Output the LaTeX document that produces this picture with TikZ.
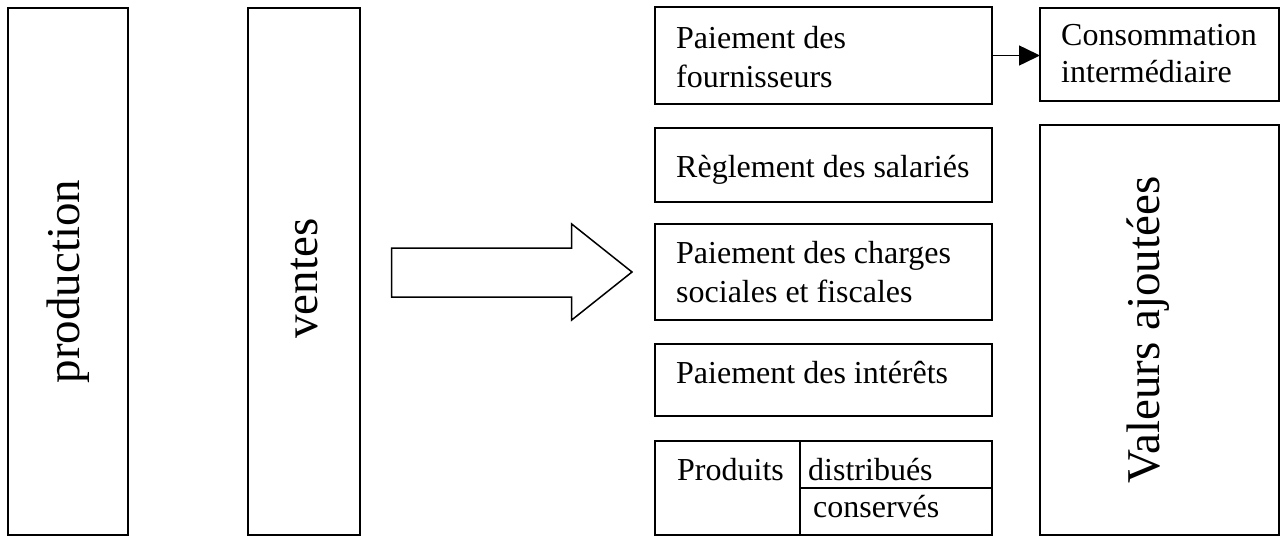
\documentclass[tikz,border=0pt]{standalone}
\usepackage{fontspec}
\setmainfont{Liberation Serif}
\usetikzlibrary{arrows.meta}

\begin{document}
\begin{tikzpicture}[x=1pt,y=-1pt,
  box/.style={draw,line width=1.5pt,inner sep=0pt,outer sep=0pt},
  lbl/.style={inner sep=0pt,anchor=base west,font=\fontsize{32}{39}\selectfont},
  big/.style={rotate=90,font=\fontsize{47}{56}\selectfont}]
\useasboundingbox (0,0) rectangle (1280,536);
\node[box,big,minimum width=527pt,minimum height=120pt] (prodn) at (68,271.5) {production\hspace*{20pt}};
\node[box,big,minimum width=527pt,minimum height=112pt] (vent) at (304,271.5) {ventes\hspace*{14pt}};
\draw[box,line join=miter] (391.7,248) -- (571.7,248) -- (571.7,224) -- (632,272) -- (571.7,320) -- (571.7,297) -- (391.7,297) -- cycle;
\node[box,minimum width=337pt,minimum height=97pt] (fourn) at (823.5,55.5) {};
\node[box,minimum width=337pt,minimum height=74pt] (sal) at (823.5,165) {};
\node[box,minimum width=337pt,minimum height=96pt] (charg) at (823.5,272) {};
\node[box,minimum width=337pt,minimum height=72pt] (inter) at (823.5,380) {};
\node[box,minimum width=145pt,minimum height=94pt] (prodL) at (727.5,488) {};
\node[box,minimum width=192pt,minimum height=47pt] (dist) at (896,464.5) {};
\node[box,minimum width=192pt,minimum height=47pt] (cons) at (896,511.5) {};
\node[box,minimum width=239pt,minimum height=93pt] (conso) at (1159.5,54.5) {};
\node[box,big,text depth=32pt,minimum width=410pt,minimum height=239pt] (val) at (1159.5,330) {Valeurs ajoutées};
\node[lbl,text width=300pt,align=flush left] (fournT) at (676,48) {Paiement des\\fournisseurs};
\node[lbl] (salT) at (676,177) {Règlement des salariés};
\node[lbl,text width=300pt,align=flush left] (chargT) at (676,263) {Paiement des charges\\sociales et fiscales};
\node[lbl] (interT) at (676,383) {Paiement des intérêts};
\node[lbl] (prodT) at (677,480) {Produits};
\node[lbl] (distT) at (808,480) {distribués};
\node[lbl] (consT) at (813,517) {conservés};
\node[lbl,text width=210pt,align=flush left,font=\fontsize{32}{37}\selectfont] (consoT) at (1061,45) {Consommation\\intermédiaire};
\draw[line width=1.5pt,-{Triangle[length=21pt,width=20pt]}] (fourn.east) -- (fourn.east -| conso.west);
\end{tikzpicture}
\end{document}
